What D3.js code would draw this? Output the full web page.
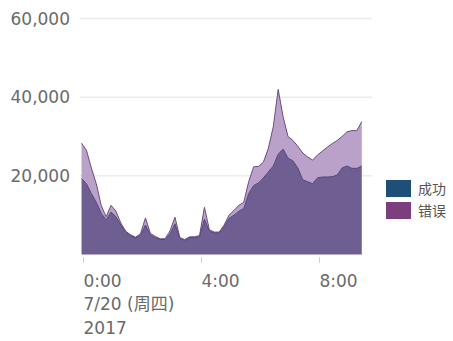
<!DOCTYPE html>
<html><head><meta charset="utf-8">
<script src="https://cdn.jsdelivr.net/npm/d3@7"></script>
<style>body{margin:0;background:#fff}svg{display:block}</style>
</head><body><svg id="c" width="453" height="341"></svg>
<script>
// data: 10-minute samples starting 3 minutes before 0:00 on 2017-07-20
const startMinute = -3;
const stepMinutes = 10;
const success = [19300,18000,15500,13300,10500,8800,10800,9600,7500,5600,4800,4200,4900,7500,5000,4300,3800,3800,5200,7800,4000,3600,4300,4300,4500,9000,5900,5500,5500,7000,9200,10000,11000,11700,15500,17500,18200,19500,21000,22500,25500,26800,24500,23800,22000,19000,18500,18000,19500,19700,19700,19800,20200,22000,22500,21900,21900,22500];
const errors  = [9000,8500,6500,4700,2000,800,1700,1400,500,300,200,200,400,1800,400,300,200,200,800,1700,300,200,200,200,300,3000,400,200,200,500,800,1200,1500,1600,3000,4800,4200,4000,6000,10000,16500,8200,5500,5200,5500,6800,6300,6000,5800,6600,7600,8400,8800,8000,8700,9600,9600,11300];
const yTicks = [20000,40000,60000];
const xTickHours = [0,4,8];
const seriesNames = ["成功","错误"];
const legendColors = ["#1f4e79","#7b3f7e"];
const areaColors = ["#6e5e92","#b9a1c9"];
const lineColors = ["#54427a","#6c4c82"];

const base = new Date(2017,6,20,0,0);
const data = success.map((s,i)=>({
  date:new Date(base.getTime()+(startMinute+i*stepMinutes)*60000),
  success:s, error:errors[i]}));

const svg = d3.select("#c");
const x = d3.scaleTime().domain([base,new Date(2017,6,20,8,0)]).range([83,319]);
const y = d3.scaleLinear().domain([0,60000]).range([254.5,18.5]);

// gridlines
svg.append("g").selectAll("line").data(yTicks).join("line")
  .attr("x1",80).attr("x2",372)
  .attr("y1",d=>y(d)).attr("y2",d=>y(d))
  .attr("stroke","#ececec").attr("stroke-width",1.5);

// y labels
const fmt = d3.format(",");
svg.append("g").selectAll("text").data(yTicks).join("text")
  .attr("x",70).attr("y",d=>y(d)).attr("dy","0.36em")
  .attr("text-anchor","end")
  .attr("font-family","DejaVu Sans").attr("font-size",17)
  .attr("fill","#6a6a6a").text(d=>fmt(d));

// stacked areas
const stack = d3.stack().keys(["success","error"]);
const layers = stack(data);
const area = d3.area().x(d=>x(d.data.date)).y0(d=>y(d[0])).y1(d=>y(d[1]));
const line = d3.line().x(d=>x(d.data.date)).y(d=>y(d[1]));
const g = svg.append("g");
g.selectAll("path.a").data(layers).join("path").attr("class","a")
  .attr("d",area).attr("fill",(d,i)=>areaColors[i]);
g.selectAll("path.l").data(layers.slice().reverse()).join("path").attr("class","l")
  .attr("d",line).attr("fill","none")
  .attr("stroke",(d,i)=>lineColors[1-i]).attr("stroke-width",1);

// x axis
const xAxis = d3.axisBottom(x)
  .tickValues(xTickHours.map(h=>new Date(2017,6,20,h,0)))
  .tickSize(6).tickFormat(d3.timeFormat("%-H:%M"));
const ax = svg.append("g").attr("transform","translate(0,257)").call(xAxis);
ax.select(".domain").remove();
ax.selectAll(".tick line").attr("stroke","#d0d0d0");
ax.selectAll(".tick text")
  .attr("text-anchor","start").attr("x",0).attr("y",29.5).attr("dy",null)
  .attr("font-family","DejaVu Sans").attr("font-size",17).attr("fill","#6a6a6a");
const first = ax.select(".tick text");
first.append("tspan").attr("x",0).attr("dy",23.5)
  .attr("font-family","DejaVu Sans, Noto Sans CJK SC").text("7/20 (周四)");
first.append("tspan").attr("x",0).attr("dy",24).text("2017");

// legend
const lg = svg.append("g");
seriesNames.forEach((n,i)=>{
  lg.append("rect").attr("x",386).attr("y",180+i*22).attr("width",25).attr("height",17)
    .attr("fill",legendColors[i]);
  lg.append("text").attr("x",418).attr("y",188.5+i*22).attr("dy","0.36em")
    .attr("font-family","Noto Sans CJK SC").attr("font-size",14).attr("fill","#555")
    .text(n);
});
</script></body></html>
